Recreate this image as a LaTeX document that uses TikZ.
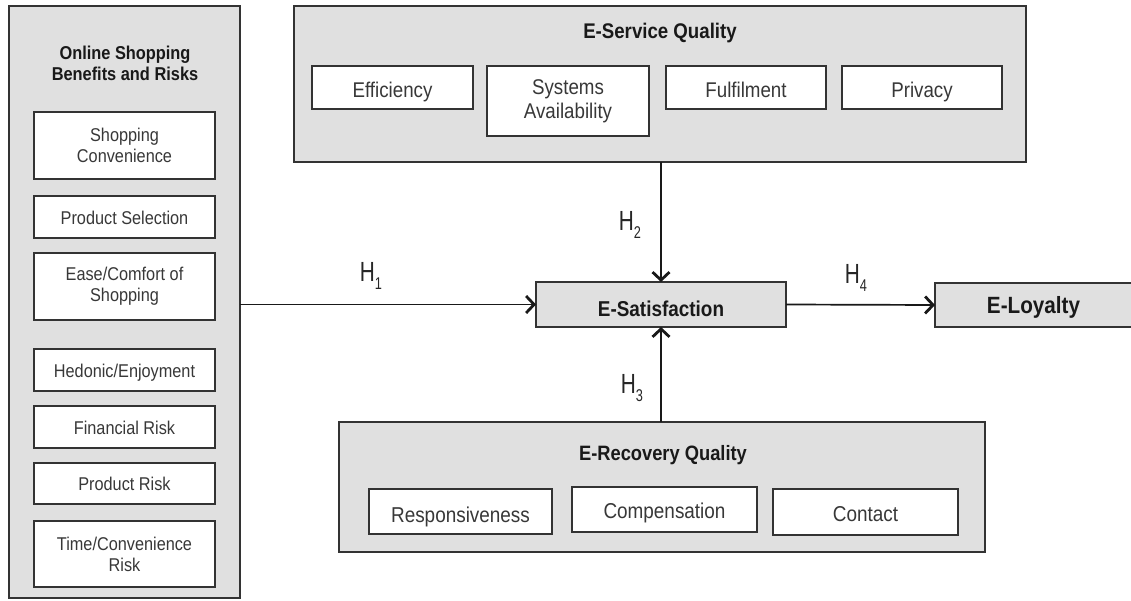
\documentclass[tikz,border=0pt]{standalone}
\usepackage{fontspec}
\setmainfont{Liberation Sans}[FakeStretch=0.88]
\newfontfamily\hfont{Liberation Sans}[FakeStretch=0.75]
\usetikzlibrary{arrows.meta}
\definecolor{panelgray}{HTML}{E0E0E0}
\definecolor{edge}{HTML}{333333}
\definecolor{txt}{HTML}{383838}
\tikzset{
  panel/.style={draw=edge, line width=1.3pt, fill=panelgray, inner sep=0pt, outer sep=0pt},
  ibox/.style={draw=edge, line width=1.3pt, fill=white, inner sep=0pt, outer sep=0pt, align=center, text=txt},
  one/.style={text height=#1, text depth=0pt},
  lefttxt/.style={font=\fontsize{18.5}{21}\selectfont},
  srvtxt/.style={font=\fontsize{21.3}{24}\selectfont},
  rectxt/.style={font=\fontsize{21.5}{24}\selectfont},
  ttl/.style={font=\bfseries\fontsize{#1}{21}\selectfont, align=center, inner sep=0pt, text=black!90},
  satbox/.style={draw=edge, line width=1.3pt, fill=panelgray, inner sep=0pt, outer sep=0pt, font=\bfseries\fontsize{#1}{24}\selectfont, text=black!90},
  conn/.style={draw=black!90, line width=1.7pt, -{Straight Barb[length=8pt,width=17pt,line width=2.8pt]}},
  hlab/.style={font=\hfont\fontsize{27.7}{30}\selectfont, inner sep=0pt, text=black!85},
}
\newcommand{\hsub}[1]{H\raisebox{-0.32em}{\fontsize{17}{18}\selectfont #1}}
\begin{document}
\begin{tikzpicture}[x=1pt,y=-1pt]
\useasboundingbox[fill=white] (0,0) rectangle (1131,601);
% left panel
\node[panel, minimum width=231pt, minimum height=592pt] (left) at (124.5,302) {};
\node[ttl=18.6] (lefttitle) at (125,63) {Online Shopping\\Benefits and Risks};
\node[ibox, lefttxt, minimum width=181pt, minimum height=67pt] (sc) at (124.5,145.5) {Shopping\\Convenience};
\node[ibox, lefttxt, one=14.2pt, minimum width=181pt, minimum height=42pt] (ps) at (124.5,217) {Product Selection};
\node[ibox, lefttxt, minimum width=181pt, minimum height=67pt] (ec) at (124.5,286.5) {Ease/Comfort of\\Shopping};
\node[ibox, lefttxt, one=14.2pt, minimum width=181pt, minimum height=42pt] (he) at (124.5,370) {Hedonic/Enjoyment};
\node[ibox, lefttxt, one=14.2pt, minimum width=181pt, minimum height=42pt] (fr) at (124.5,427) {Financial Risk};
\node[ibox, lefttxt, one=14.2pt, minimum width=181pt, minimum height=41pt] (pr) at (124.5,483.5) {Product Risk};
\node[ibox, lefttxt, minimum width=181pt, minimum height=66pt] (tc) at (124.5,554) {Time/Convenience\\Risk};
% service panel
\node[panel, minimum width=732pt, minimum height=156pt] (serv) at (660,84) {};
\node[ttl=21.2] (servtitle) at (660,33) {E-Service Quality};
\node[ibox, srvtxt, one=20.3pt, minimum width=161pt, minimum height=43pt] (eff) at (392.5,87.5) {Efficiency};
\node[ibox, srvtxt, minimum width=162pt, minimum height=70pt] (sa) at (568,101) {Systems\\Availability};
\node[ibox, srvtxt, one=20.3pt, minimum width=160pt, minimum height=43pt] (ful) at (746,87.5) {Fulfilment};
\node[ibox, srvtxt, one=20.3pt, minimum width=160pt, minimum height=43pt] (pri) at (922,87.5) {Privacy};
% recovery panel
\node[panel, minimum width=646pt, minimum height=130pt] (rec) at (662,487) {};
\node[ttl=20.8] (rectitle) at (663,455) {E-Recovery Quality};
\node[ibox, rectxt, one=21.4pt, minimum width=183pt, minimum height=45pt] (resp) at (460.5,511.5) {Responsiveness};
\node[ibox, rectxt, one=18.4pt, minimum width=185pt, minimum height=45pt] (comp) at (664.5,509.5) {Compensation};
\node[ibox, rectxt, one=19.4pt, minimum width=185pt, minimum height=46pt] (cont) at (865.5,512) {Contact};
% satisfaction and loyalty
\node[satbox=21.5, one=23.4pt, minimum width=250pt, minimum height=45pt] (esat) at (661,304.5) {E-Satisfaction};
\node[satbox=23.5, one=16.8pt, minimum width=197pt, minimum height=44pt] (eloy) at (1033.5,305) {E-Loyalty};
% connectors
\draw[conn] (esat.west -| left.east) -- (esat.west);
\draw[conn] (esat.north |- serv.south) -- (esat.north);
\draw[conn] (esat.south |- rec.north) -- (esat.south);
\draw[conn] (esat.east) -- (eloy.west);
% labels
\node[hlab] (h1) at (371,276) {\hsub{1}};
\node[hlab] (h2) at (630,225) {\hsub{2}};
\node[hlab] (h3) at (632,388) {\hsub{3}};
\node[hlab] (h4) at (856,278) {\hsub{4}};
\end{tikzpicture}
\end{document}
